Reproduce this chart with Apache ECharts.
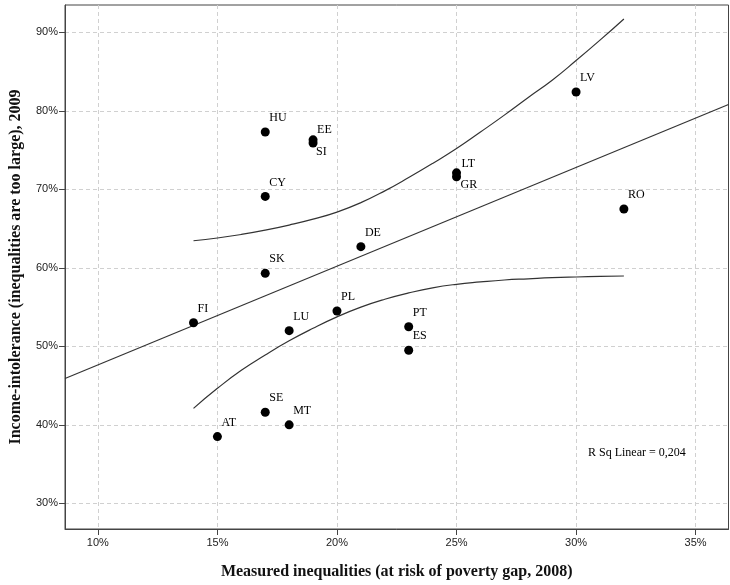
<!DOCTYPE html>
<html>
<head>
<meta charset="utf-8">
<style>html,body{margin:0;padding:0;background:#fff}#c{width:730px;height:585px}</style>
<script src="https://cdn.jsdelivr.net/npm/echarts@6/dist/echarts.min.js"></script>
</head>
<body>
<div id="c"></div>
<script>
// ---- data ----
var countries = ['HU','EE','SI','CY','SK','DE','LV','LT','GR','RO','FI','LU','PL','AT','SE','MT','PT','ES'];
var povertyGap = [17, 19, 19, 17, 17, 21, 30, 25, 25, 32, 14, 18, 20, 15, 17, 18, 23, 23];
var intolerance = [77.3, 76.3, 75.9, 69.1, 59.3, 62.7, 82.4, 72.1, 71.6, 67.5, 53.0, 52.0, 54.5, 38.5, 41.6, 40.0, 52.5, 49.5];
var fitX = [8.625, 36.375];
var fitY = [45.9, 80.8];
var bandX = [14, 15, 16, 17, 18, 19, 20, 21, 22, 23, 24, 25, 26, 27, 28, 29, 30, 31, 32];
var upperY = [63.45, 63.8, 64.25, 64.8, 65.45, 66.2, 67.1, 68.3, 69.8, 71.5, 73.3, 75.2, 77.3, 79.45, 81.7, 83.9, 86.4, 89.0, 91.7];
var lowerY = [42.1, 44.65, 46.95, 48.9, 50.7, 52.3, 53.75, 55.0, 56.0, 56.8, 57.45, 57.9, 58.2, 58.45, 58.6, 58.74, 58.83, 58.9, 58.96];
var xTicks = [10, 15, 20, 25, 30, 35];
var yTicks = [30, 40, 50, 60, 70, 80, 90];
var rsqText = 'R Sq Linear = 0,204';

// ---- styles ----
var labelOffsets = {EE: [4, -10], SI: [3, 9], LT: [5, -9], GR: [4, 8]};
var defaultOffset = [4, -14];

function pairs(xs, ys) { return xs.map(function (x, i) { return [x, ys[i]]; }); }

var points = countries.map(function (c, i) {
  return {
    name: c,
    value: [povertyGap[i], intolerance[i]],
    label: {offset: labelOffsets[c] || defaultOffset}
  };
});

var serif = 'Liberation Serif';
var lineStyle = {color: '#333', width: 1.2};

var chart = echarts.init(document.getElementById('c'), null, {renderer: 'canvas'});
chart.setOption({
  animation: false,
  backgroundColor: '#fff',
  grid: {left: 63, top: 5, right: 1.5, bottom: 56, show: true, borderColor: '#444', borderWidth: 1, containLabel: false},
  xAxis: {
    type: 'value', min: 8.625, max: 36.375,
    name: 'Measured inequalities (at risk of poverty gap, 2008)',
    nameLocation: 'middle', nameGap: 35,
    nameTextStyle: {fontFamily: serif, fontWeight: 'bold', fontSize: 16, color: '#111'},
    axisLine: {show: true, lineStyle: {color: '#444'}},
    axisTick: {show: true, length: 6, customValues: xTicks, lineStyle: {color: '#444'}},
    axisLabel: {customValues: xTicks, formatter: function (v) { return v + '%'; }, fontFamily: 'Liberation Sans', fontSize: 11, color: '#222', margin: 8},
    splitLine: {show: true, lineStyle: {color: '#d0d0d0', type: [4, 3]}}
  },
  yAxis: {
    type: 'value', min: 26.73, max: 93.48,
    name: 'Income-intolerance (inequalities are too large), 2009',
    nameLocation: 'middle', nameGap: 41, nameRotate: 90,
    nameTextStyle: {fontFamily: serif, fontWeight: 'bold', fontSize: 16, color: '#111'},
    axisLine: {show: true, lineStyle: {color: '#444'}},
    axisTick: {show: true, length: 6, customValues: yTicks, lineStyle: {color: '#444'}},
    axisLabel: {customValues: yTicks, formatter: function (v) { return v + '%'; }, fontFamily: 'Liberation Sans', fontSize: 11, color: '#222', margin: 7},
    splitLine: {show: true, lineStyle: {color: '#d0d0d0', type: [4, 3]}}
  },
  series: [
    {type: 'line', data: pairs(fitX, fitY), showSymbol: false, symbol: 'none', lineStyle: lineStyle, silent: true, z: 2},
    {type: 'line', data: pairs(bandX, upperY), smooth: 0.5, showSymbol: false, symbol: 'none', lineStyle: lineStyle, silent: true, z: 2},
    {type: 'line', data: pairs(bandX, lowerY), smooth: 0.5, showSymbol: false, symbol: 'none', lineStyle: lineStyle, silent: true, z: 2},
    {
      type: 'scatter', data: points, symbolSize: 9, z: 3,
      itemStyle: {color: '#000', opacity: 1},
      label: {show: true, position: 'inside', align: 'left', verticalAlign: 'middle',
        formatter: function (p) { return p.name; },
        fontFamily: serif, fontSize: 12, color: '#000'}
    }
  ],
  graphic: [{
    type: 'text', left: 588, top: 447,
    style: {text: rsqText, font: '12px "Liberation Serif"', fill: '#000'}
  }]
});
</script>
</body>
</html>
